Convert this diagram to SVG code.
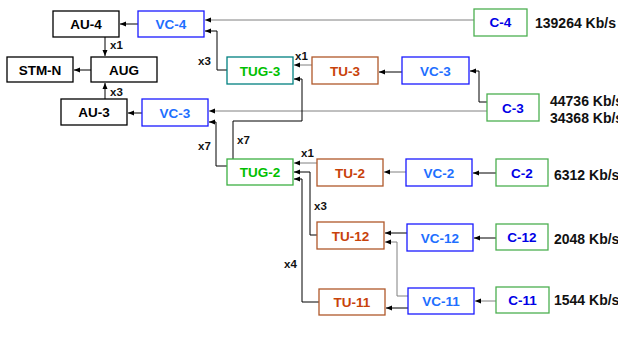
<svg xmlns="http://www.w3.org/2000/svg" width="618" height="338" viewBox="0 0 618 338">
<defs>
<style>
text{font-family:"Liberation Sans",Arial,sans-serif;font-weight:bold}
.box{fill:#fff;stroke-width:1.3}
.bk rect{stroke:#000}.bk text{fill:#000}
.vc rect{stroke:#1a1aff}.vc text{fill:#1e6fff}
.c rect{stroke:#4caf50}.c text{fill:#0000e6}
.tug text{fill:#00c000}
.tu rect{stroke:#b0582a}.tu text{fill:#c8420a}
.lbl{font-size:13.5px;text-anchor:middle}
.rate{font-size:14px;fill:#111}
.mul{font-size:11.5px;fill:#111}
.ln{fill:none;stroke:#000;stroke-width:1;marker-end:url(#ah)}
.g{stroke:#808080}
</style>
<marker id="ah" viewBox="0 0 6 6" refX="6" refY="3" markerWidth="6" markerHeight="6" markerUnits="userSpaceOnUse" orient="auto"><path d="M0,0.5 L6,3 L0,5.5 z" fill="#000"/></marker>
</defs>
<g id="connectors">
<path class="ln g" d="M474,20 H205"/>
<path class="ln" d="M227,70 H217 V31 H205"/>
<path class="ln" d="M138,24 H120"/>
<path class="ln" d="M105,37 V56"/>
<path class="ln" d="M91,70 H74"/>
<path class="ln" d="M105,99 V83"/>
<path class="ln" d="M142,113 H128"/>
<path class="ln g" d="M487,111 H209"/>
<path class="ln" d="M227,166 H216 V122 H209"/>
<path class="ln" d="M233,159 V121 H302 V79 H294"/>
<path class="ln g" d="M312,65 H294"/>
<path class="ln" d="M402,72 H379"/>
<path class="ln" d="M487,102 H479 V71 H470"/>
<path class="ln g" d="M317,163 H294"/>
<path class="ln g" d="M406,172 H384"/>
<path class="ln" d="M496,173 H473"/>
<path class="ln" d="M317,235 H310 V172 H294"/>
<path class="ln" d="M319,302 H302 V179 H294"/>
<path class="ln" d="M407,233 H385"/>
<path class="ln" d="M496,238 H474"/>
<path class="ln g" d="M408,296 H397 V242 H385"/>
<path class="ln" d="M408,308 H386"/>
<path class="ln g" d="M496,301 H475"/>
</g>
<g id="mult-labels">
<text class="mul" x="110" y="49">x1</text>
<text class="mul" x="110" y="96">x3</text>
<text class="mul" x="198" y="65">x3</text>
<text class="mul" x="295" y="60">x1</text>
<text class="mul" x="198" y="150">x7</text>
<text class="mul" x="237" y="144">x7</text>
<text class="mul" x="301" y="157">x1</text>
<text class="mul" x="314" y="210">x3</text>
<text class="mul" x="284" y="268">x4</text>
</g>
<g id="AU-4" class="bk"><rect class="box" x="53" y="11" width="66" height="26"/><text class="lbl" x="86" y="29">AU-4</text></g>
<g id="VC-4" class="vc"><rect class="box" x="138" y="11" width="66" height="26"/><text class="lbl" x="171" y="29">VC-4</text></g>
<g id="C-4" class="c"><rect class="box" x="474" y="9" width="53" height="27"/><text class="lbl" x="500.5" y="27">C-4</text></g>
<text class="rate" x="535" y="28">139264 Kb/s</text>
<g id="STM-N" class="bk"><rect class="box" x="7" y="57" width="66" height="25"/><text class="lbl" x="40" y="74.5">STM-N</text></g>
<g id="AUG" class="bk"><rect class="box" x="91" y="57" width="66" height="25"/><text class="lbl" x="124" y="74.5">AUG</text></g>
<g id="TUG-3" class="tug"><rect class="box" x="227" y="57" width="66" height="27" stroke="#008080"/><text class="lbl" x="260" y="75.5">TUG-3</text></g>
<g id="TU-3" class="tu"><rect class="box" x="312" y="57" width="66" height="27"/><text class="lbl" x="345" y="75.5">TU-3</text></g>
<g id="VC-3b" class="vc"><rect class="box" x="402" y="57" width="67" height="27"/><text class="lbl" x="435.5" y="75.5">VC-3</text></g>
<g id="AU-3" class="bk"><rect class="box" x="61" y="99" width="66" height="26"/><text class="lbl" x="94" y="117">AU-3</text></g>
<g id="VC-3a" class="vc"><rect class="box" x="142" y="99" width="66" height="27"/><text class="lbl" x="175" y="117.5">VC-3</text></g>
<g id="C-3" class="c"><rect class="box" x="487" y="94" width="52" height="27"/><text class="lbl" x="513" y="112.5">C-3</text></g>
<text class="rate" x="550" y="106">44736 Kb/s</text>
<text class="rate" x="550" y="123">34368 Kb/s</text>
<g id="TUG-2" class="tug"><rect class="box" x="227" y="159" width="66" height="26" stroke="#3cb043"/><text class="lbl" x="260" y="177">TUG-2</text></g>
<g id="TU-2" class="tu"><rect class="box" x="317" y="159" width="66" height="27"/><text class="lbl" x="350" y="177.5">TU-2</text></g>
<g id="VC-2" class="vc"><rect class="box" x="406" y="159" width="66" height="27"/><text class="lbl" x="439" y="177.5">VC-2</text></g>
<g id="C-2" class="c"><rect class="box" x="496" y="159" width="52" height="27"/><text class="lbl" x="522" y="177.5">C-2</text></g>
<text class="rate" x="554" y="180">6312 Kb/s</text>
<g id="TU-12" class="tu"><rect class="box" x="317" y="222" width="67" height="27"/><text class="lbl" x="350.5" y="240.5">TU-12</text></g>
<g id="VC-12" class="vc"><rect class="box" x="407" y="224" width="66" height="27"/><text class="lbl" x="440" y="242.5">VC-12</text></g>
<g id="C-12" class="c"><rect class="box" x="496" y="224" width="52" height="26"/><text class="lbl" x="522" y="242">C-12</text></g>
<text class="rate" x="554" y="244">2048 Kb/s</text>
<g id="TU-11" class="tu"><rect class="box" x="319" y="289" width="66" height="26"/><text class="lbl" x="352" y="307">TU-11</text></g>
<g id="VC-11" class="vc"><rect class="box" x="408" y="288" width="66" height="26"/><text class="lbl" x="441" y="306">VC-11</text></g>
<g id="C-11" class="c"><rect class="box" x="496" y="287" width="53" height="26"/><text class="lbl" x="522.5" y="305">C-11</text></g>
<text class="rate" x="554" y="305">1544 Kb/s</text>
</svg>
